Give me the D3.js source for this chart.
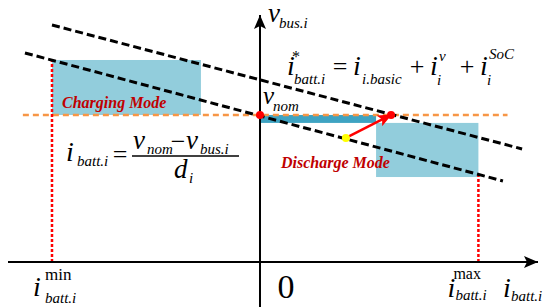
<!DOCTYPE html>
<html>
<head>
<meta charset="utf-8">
<script src="https://cdn.jsdelivr.net/npm/d3@7"></script>
</head>
<body style="margin:0">
<svg id="chart" width="550" height="307"></svg>
<script>
// ---- values (current i, voltage v in p.u.) ----
const vNom = 1.0;
const iMin = -10;
const iMax = 10.5;
const iRange = [-12.115, 13.365];
const vRange = [-0.306, 1.68];

// droop characteristic and its shifted copy (end points)
const droopI = [-11.3, 11.68];
const droopV = [1.422, 0.551];
const shiftI = [-10, 12.6];
const shiftV = [1.612, 0.769];

// operating zones (charging, transition, discharge)
const zoneI0 = [-10, 0, 5.58];
const zoneI1 = [-2.84, 5.58, 10.5];
const zoneV0 = [1.0, 0.946, 0.578];
const zoneV1 = [1.374, 1.0, 0.946];
const zoneFill = ['#92cddc', '#3ea3c2', '#92cddc'];

// nominal line extent
const nomI = [-11.4, 11.9];

// limit lines: current and top voltage on the droop line
const limitI = [iMin, iMax];
const limitV = [1.374, 0.596];

// operating points
const pointI = [0, 6.3, 4.13];
const pointV = [1.0, 1.0, 0.844];
const pointFill = ['#ff0000', '#ff0000', '#ffff00'];

const svg = d3.select('#chart');
const x = d3.scaleLinear().domain(iRange).range([8, 538]);
const y = d3.scaleLinear().domain(vRange).range([307, 15]);

// ---- text first, exactly like a plain label list ----
const labels = [];
function txt(px, py, s, size, opts = {}) {
    labels.push({ px, py, s, size, roman: !!opts.roman, bold: !!opts.bold,
                  color: opts.color || '#000', anchor: opts.anchor || 'start' });
}

// axis titles
txt(x(0) + 8, 22, 'v', 27);
txt(x(0) + 19, 28, 'bus.i', 15);
txt(503, 297, 'i', 28);
txt(511, 301, 'batt.i', 15);

// v_nom
txt(x(0) + 3, y(vNom) - 11, 'v', 25);
txt(x(0) + 13, y(vNom) - 4, 'nom', 15);

// tick labels
txt(x(iMin) - 19, 296, 'i', 28);
txt(x(iMin) - 7, 280, 'min', 17, { roman: true });
txt(x(iMin) - 7, 303, 'batt.i', 15);
txt(x(0) + 26, 298, '0', 34, { roman: true, anchor: 'middle' });
txt(x(iMax) - 31, 297, 'i', 28);
txt(x(iMax) - 25, 279, 'max', 16, { roman: true });
txt(x(iMax) - 23, 300, 'batt.i', 15);

// mode labels
txt(62, 108, 'Charging Mode', 16, { bold: true, color: '#c00000' });
txt(281, 168, 'Discharge Mode', 16, { bold: true, color: '#c00000' });

// reference current formula
txt(287, 75, 'i', 28);
txt(292, 62, '*', 16, { roman: true });
txt(294, 84, 'batt.i', 15);
txt(340, 75, '=', 26, { roman: true, anchor: 'middle' });
txt(353, 75, 'i', 28);
txt(362, 84, 'i.basic', 15);
txt(417, 75, '+', 26, { roman: true, anchor: 'middle' });
txt(430, 75, 'i', 28);
txt(439, 61, 'v', 15);
txt(437, 85, 'i', 15);
txt(467, 75, '+', 26, { roman: true, anchor: 'middle' });
txt(480, 75, 'i', 28);
txt(489, 59, 'SoC', 15);
txt(487, 85, 'i', 15);

// droop formula
txt(66, 161, 'i', 28);
txt(77, 166, 'batt.i', 15);
txt(120, 163, '=', 26, { roman: true, anchor: 'middle' });
txt(133, 149, 'v', 27);
txt(147, 154, 'nom', 15);
txt(178, 150, '\u2212', 26, { roman: true, anchor: 'middle' });
txt(186, 149, 'v', 27);
txt(200, 154, 'bus.i', 15);
txt(174, 178, 'd', 27);
txt(189, 183, 'i', 15);

const defs = svg.append('defs');
defs.append('marker')
    .attr('id', 'blackArrow')
    .attr('markerUnits', 'userSpaceOnUse')
    .attr('viewBox', '0 0 14 12')
    .attr('refX', 14).attr('refY', 6)
    .attr('markerWidth', 14).attr('markerHeight', 12)
    .attr('orient', 'auto')
    .append('path').attr('d', 'M0,0 L14,6 L0,12 L3,6 Z').attr('fill', '#000');
defs.append('marker')
    .attr('id', 'redArrow')
    .attr('markerUnits', 'userSpaceOnUse')
    .attr('viewBox', '0 0 14 12')
    .attr('refX', 13).attr('refY', 6)
    .attr('markerWidth', 14).attr('markerHeight', 12)
    .attr('orient', 'auto')
    .append('path').attr('d', 'M0,0 L14,6 L0,12 L3,6 Z').attr('fill', '#ff0000');

const marks = svg.append('g');

// zones
marks.selectAll('rect.zone')
    .data(zoneI0)
    .join('rect')
    .attr('class', 'zone')
    .attr('x', (d, k) => x(d))
    .attr('y', (d, k) => y(zoneV1[k]))
    .attr('width', (d, k) => x(zoneI1[k]) - x(d))
    .attr('height', (d, k) => y(zoneV0[k]) - y(zoneV1[k]))
    .attr('fill', (d, k) => zoneFill[k]);

// nominal voltage line
marks.append('line')
    .attr('x1', x(nomI[0])).attr('x2', x(nomI[1]))
    .attr('y1', y(vNom)).attr('y2', y(vNom))
    .attr('stroke', '#f79646').attr('stroke-width', 2.5)
    .attr('stroke-dasharray', '6,4');

// limit lines
marks.selectAll('line.limit')
    .data(limitI)
    .join('line')
    .attr('class', 'limit')
    .attr('x1', d => x(d)).attr('x2', d => x(d))
    .attr('y1', y(0)).attr('y2', (d, k) => y(limitV[k]))
    .attr('stroke', '#ff0000').attr('stroke-width', 2.5)
    .attr('stroke-dasharray', '3,2');

// axes
marks.append('line')
    .attr('x1', x(iRange[0])).attr('x2', x(iRange[1]))
    .attr('y1', y(0)).attr('y2', y(0))
    .attr('stroke', '#000').attr('stroke-width', 2)
    .attr('marker-end', 'url(#blackArrow)');
marks.append('line')
    .attr('x1', x(0)).attr('x2', x(0))
    .attr('y1', y(vRange[0])).attr('y2', y(vRange[1]))
    .attr('stroke', '#000').attr('stroke-width', 2)
    .attr('marker-end', 'url(#blackArrow)');

// droop lines
const line = d3.line().x(d => x(d[0])).y(d => y(d[1]));
[[droopI, droopV], [shiftI, shiftV]].forEach(([is, vs]) => {
    marks.append('path')
        .datum(is.map((d, k) => [d, vs[k]]))
        .attr('fill', 'none')
        .attr('stroke', '#000').attr('stroke-width', 3)
        .attr('stroke-dasharray', '8,4')
        .attr('d', line);
});

// shift arrow (yellow point -> red point)
marks.append('line')
    .attr('x1', x(pointI[2])).attr('y1', y(pointV[2]))
    .attr('x2', x(pointI[1])).attr('y2', y(pointV[1]))
    .attr('stroke', '#ff0000').attr('stroke-width', 2.5)
    .attr('marker-end', 'url(#redArrow)');

marks.selectAll('circle.pt')
    .data(pointI)
    .join('circle')
    .attr('class', 'pt')
    .attr('cx', d => x(d))
    .attr('cy', (d, k) => y(pointV[k]))
    .attr('r', 4)
    .attr('fill', (d, k) => pointFill[k]);

// fraction bar
marks.append('line')
    .attr('x1', 132).attr('x2', 239)
    .attr('y1', 156).attr('y2', 156)
    .attr('stroke', '#000').attr('stroke-width', 1.5);

svg.selectAll('text')
    .data(labels)
    .join('text')
    .attr('x', d => d.px)
    .attr('y', d => d.py)
    .attr('font-size', d => d.size)
    .attr('font-style', d => d.roman ? 'normal' : 'italic')
    .attr('font-weight', d => d.bold ? 'bold' : null)
    .attr('fill', d => d.color)
    .attr('text-anchor', d => d.anchor)
    .style('font-family', d => "'Times New Roman'")
    .text(d => d.s);
</script>
</body>
</html>
